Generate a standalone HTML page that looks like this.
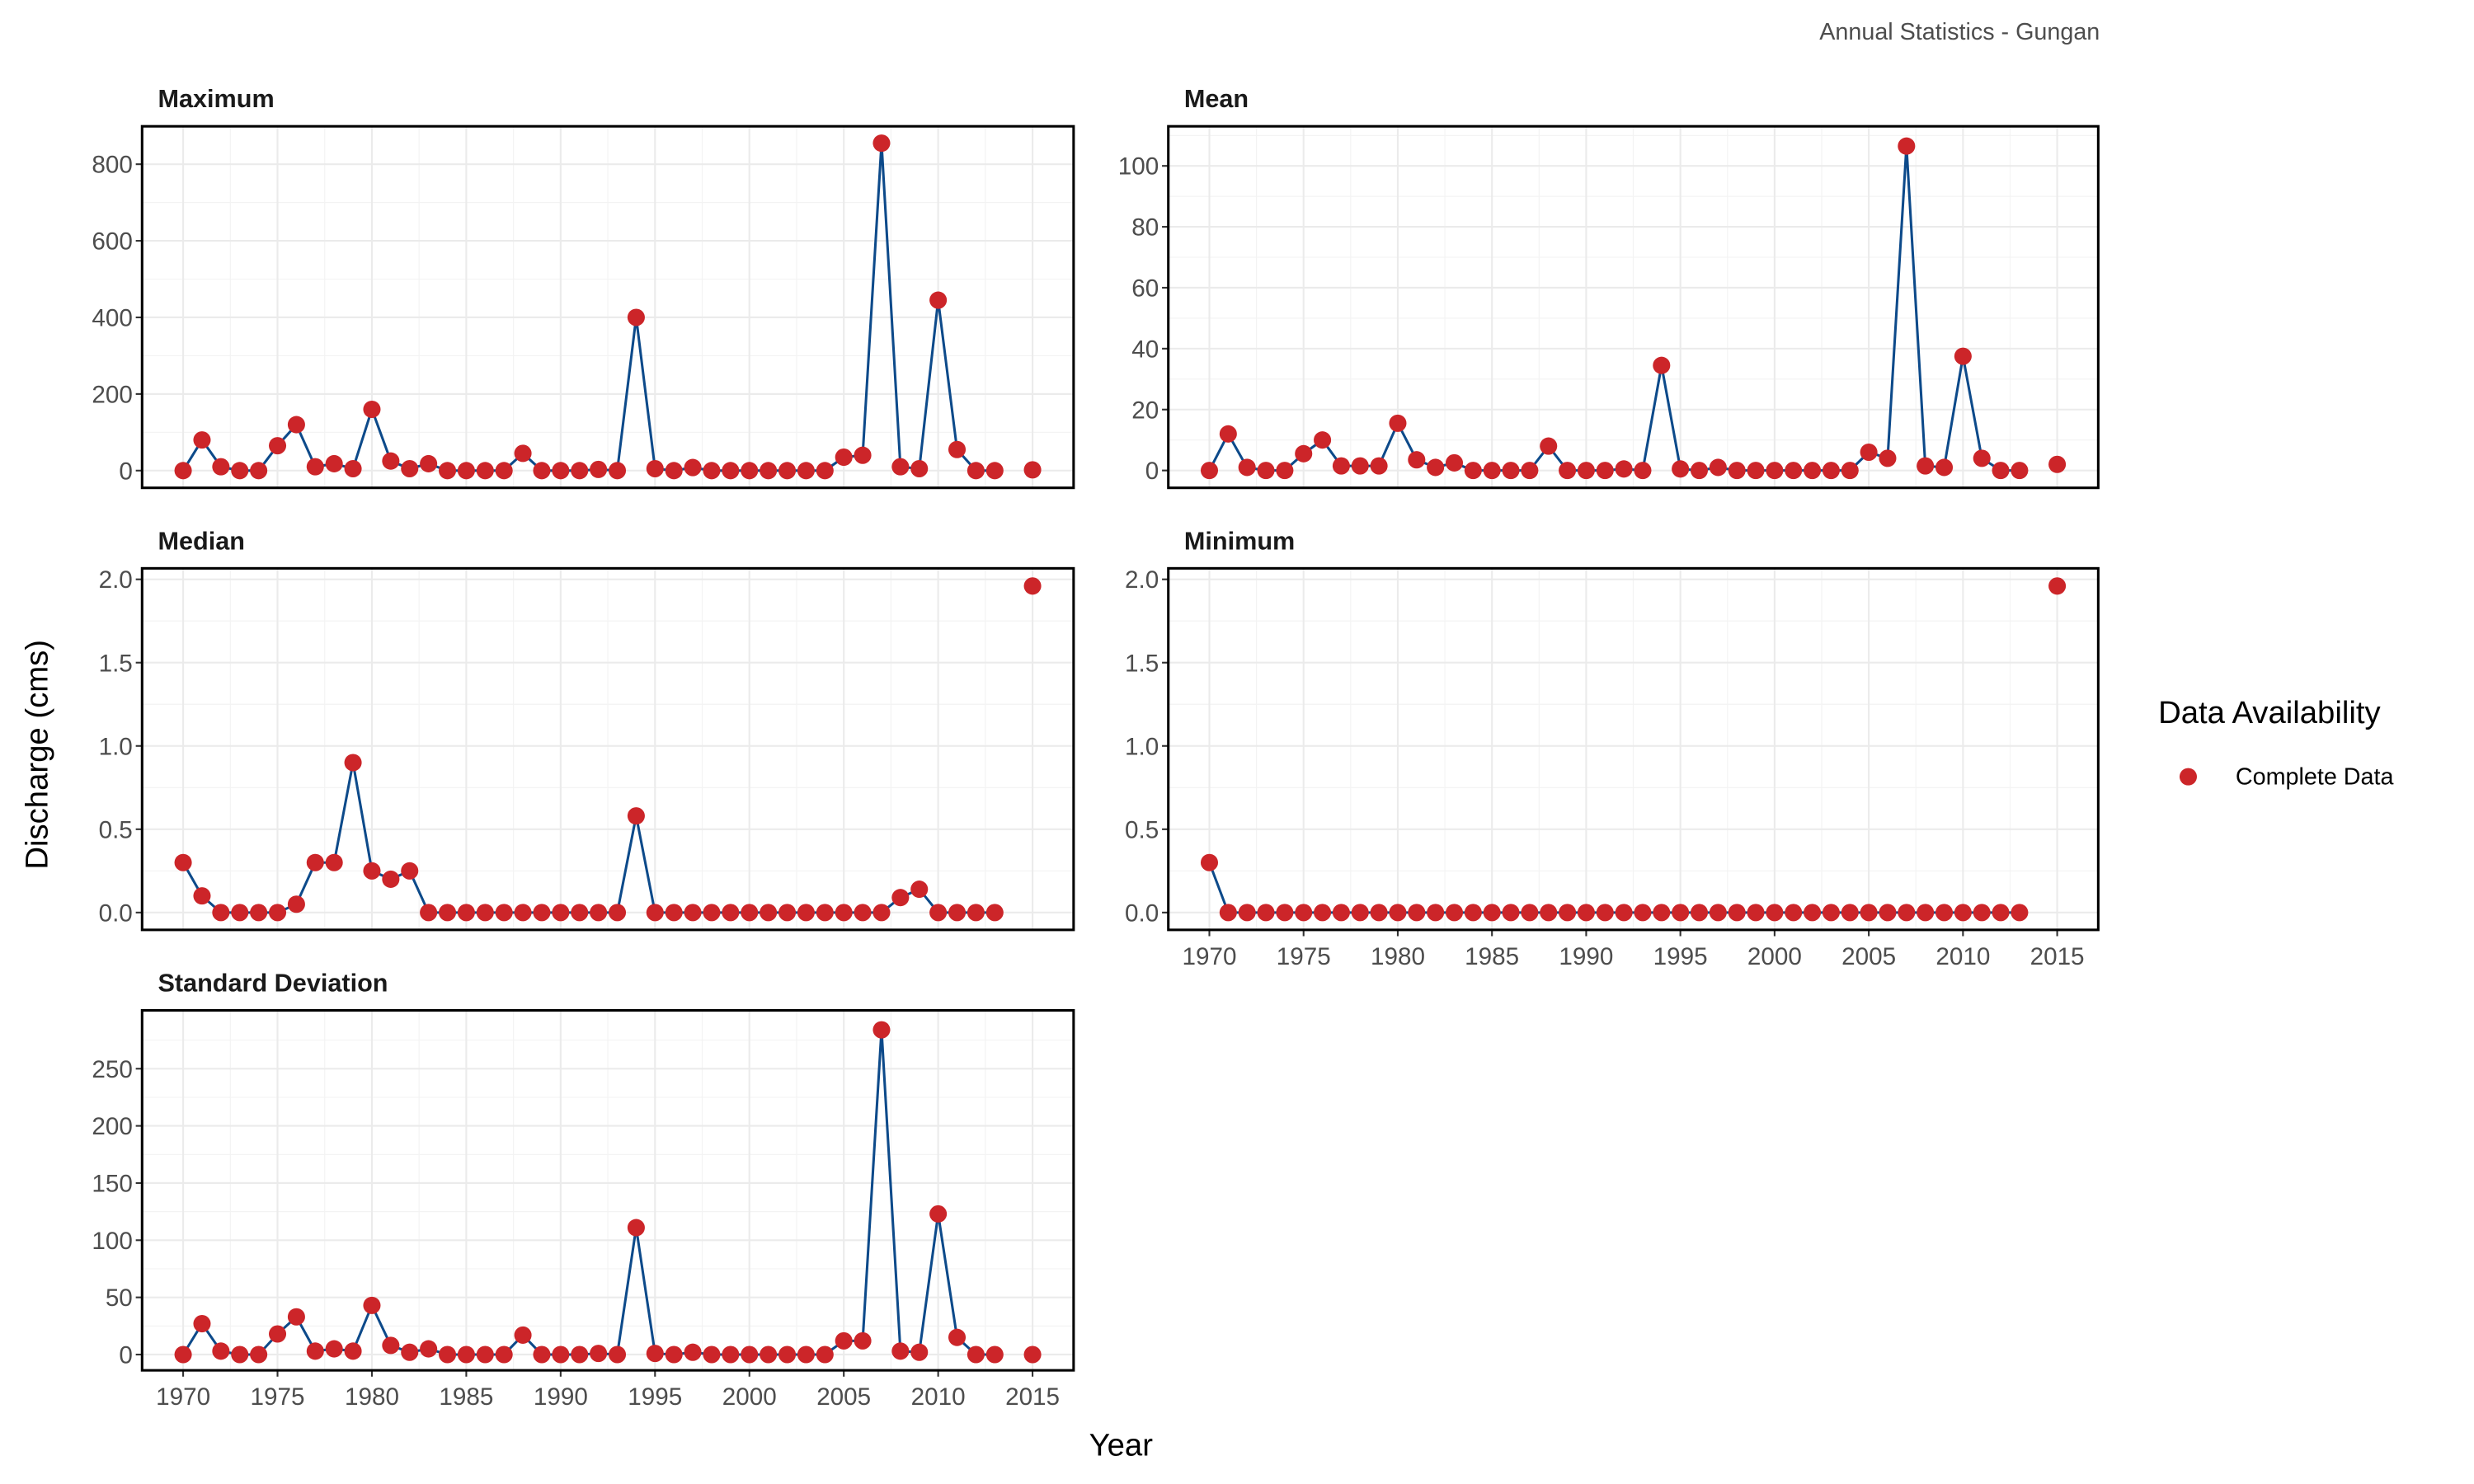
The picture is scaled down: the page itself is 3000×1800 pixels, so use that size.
<!DOCTYPE html>
<html><head><meta charset="utf-8"><style>
html,body{margin:0;padding:0;background:#fff;}
svg{display:block;font-family:"Liberation Sans",Arial,sans-serif;}
</style></head><body>
<svg id="chart" width="3000" height="1800" viewBox="0 0 1567 940" preserveAspectRatio="none" xmlns="http://www.w3.org/2000/svg">
<text x="1330" y="25" text-anchor="end" font-size="15" fill="#4d4d4d">Annual Statistics - Gungan</text>
<text transform="translate(30,478) rotate(-90)" text-anchor="middle" font-size="20" fill="#000">Discharge (cms)</text>
<text x="710" y="922" text-anchor="middle" font-size="20" fill="#000">Year</text>
<text x="1367" y="458" font-size="20" fill="#000">Data Availability</text>
<circle cx="1386" cy="492" r="5.5" fill="#cc2529"/>
<text x="1416" y="497" font-size="15" fill="#000">Complete Data</text>
<g id="panels"></g>
</svg>
<script>
const years = [1970,1971,1972,1973,1974,1975,1976,1977,1978,1979,1980,1981,1982,1983,1984,1985,1986,1987,1988,1989,1990,1991,1992,1993,1994,1995,1996,1997,1998,1999,2000,2001,2002,2003,2004,2005,2006,2007,2008,2009,2010,2011,2012,2013,2015];
const maximumVals = [0,80,10,0,0,65,120,10,18,5,160,25,5,18,0,0,0,0,45,0,0,0,3,0,400,5,0,8,0,0,0,0,0,0,0,35,40,855,10,5,445,55,0,0,2];
const meanVals = [0,12,1,0,0,5.5,10,1.5,1.5,1.5,15.5,3.5,1,2.5,0,0,0,0,8,0,0,0,0.5,0,34.5,0.5,0,1,0,0,0,0,0,0,0,6,4,106.5,1.5,1,37.5,4,0,0,2];
const medianVals = [0.3,0.1,0,0,0,0,0.05,0.3,0.3,0.9,0.25,0.2,0.25,0,0,0,0,0,0,0,0,0,0,0,0.58,0,0,0,0,0,0,0,0,0,0,0,0,0,0.09,0.14,0,0,0,0,1.96];
const minimumVals = [0.3,0,0,0,0,0,0,0,0,0,0,0,0,0,0,0,0,0,0,0,0,0,0,0,0,0,0,0,0,0,0,0,0,0,0,0,0,0,0,0,0,0,0,0,1.96];
const sdVals = [0,27,3,0,0,18,33,3,5,3,43,8,2,5,0,0,0,0,17,0,0,0,1,0,111,1,0,2,0,0,0,0,0,0,0,12,12,284,3,2,123,15,0,0,0];
const maxTicks = [0,200,400,600,800];
const meanTicks = [0,20,40,60,80,100];
const medTicks = [0,0.5,1.0,1.5,2.0];
const sdTicks = [0,50,100,150,200,250];
const xTicks = [1970,1975,1980,1985,1990,1995,2000,2005,2010,2015];

const NS="http://www.w3.org/2000/svg";
const root=document.getElementById('panels');
function mk(tag,attrs,parent){const e=document.createElementNS(NS,tag);for(const k in attrs)e.setAttribute(k,attrs[k]);(parent||root).appendChild(e);return e;}

const panels=[
 {title:"Maximum",vals:maximumVals,ticks:maxTicks,x0:90,x1:680,y0:80,y1:309,lo:-45,hi:899,dec:0,xlab:false,name:'maximum'},
 {title:"Mean",vals:meanVals,ticks:meanTicks,x0:740,x1:1329,y0:80,y1:309,lo:-5.7,hi:113,dec:0,xlab:false,name:'mean'},
 {title:"Median",vals:medianVals,ticks:medTicks,x0:90,x1:680,y0:360,y1:589,lo:-0.104,hi:2.066,dec:1,xlab:false,name:'median'},
 {title:"Minimum",vals:minimumVals,ticks:medTicks,x0:740,x1:1329,y0:360,y1:589,lo:-0.104,hi:2.066,dec:1,xlab:true,name:'minimum'},
 {title:"Standard Deviation",vals:sdVals,ticks:sdTicks,x0:90,x1:680,y0:640,y1:868,lo:-13.8,hi:301,dec:0,xlab:true,name:'standard-deviation'}
];

panels.forEach(p=>{
  const g=mk('g',{});
  
  
  const xs=v=>p.x0+26+(v-1970)*(p.x1-p.x0-52)/45;
  const ys=v=>p.y1-(v-p.lo)*(p.y1-p.y0)/(p.hi-p.lo);
  const t=mk('text',{x:p.x0+10,y:p.y0-12,'font-size':16,'font-weight':'bold',fill:'#1a1a1a'},g);
  t.textContent=p.title;
  
  
  for(let y=1967.5;y<=2017.5;y+=5){const x=xs(y);if(x>p.x0&&x<p.x1)mk('line',{x1:x,x2:x,y1:p.y0,y2:p.y1,stroke:'#f3f3f3','stroke-width':0.6},g);}
  const step=p.ticks[1]-p.ticks[0];
  for(let i=0;i<=p.ticks.length;i++){const v=p.ticks[0]+step*(i-0.5);const y=ys(v);if(y>p.y0&&y<p.y1)mk('line',{x1:p.x0,x2:p.x1,y1:y,y2:y,stroke:'#f3f3f3','stroke-width':0.6},g);}
  xTicks.forEach(v=>{const x=xs(v);mk('line',{x1:x,x2:x,y1:p.y0,y2:p.y1,stroke:'#ebebeb','stroke-width':1.1},g);});
  p.ticks.forEach(v=>{const y=ys(v);mk('line',{x1:p.x0,x2:p.x1,y1:y,y2:y,stroke:'#ebebeb','stroke-width':1.1},g);
    mk('line',{x1:p.x0-4,x2:p.x0,y1:y,y2:y,stroke:'#333','stroke-width':1.1},g);
    const l=mk('text',{x:p.x0-6,y:y+5.5,'text-anchor':'end','font-size':15.5,fill:'#4d4d4d'},g);
    l.textContent=v.toFixed(p.dec);
    
    
  });
  if(p.xlab){xTicks.forEach(v=>{const x=xs(v);mk('line',{x1:x,x2:x,y1:p.y1,y2:p.y1+4,stroke:'#333','stroke-width':1.1},g);
    const l=mk('text',{x:x,y:p.y1+22,'text-anchor':'middle','font-size':15.5,fill:'#4d4d4d'},g);
    l.textContent=v;
    
    
  });}
  let d='';
  years.forEach((yr,i)=>{const cmd=(i===0||yr-years[i-1]>1)?'M':'L';d+=cmd+xs(yr)+','+ys(p.vals[i])+' ';});
  const path=mk('path',{d:d,fill:'none',stroke:'#0d4a8a','stroke-width':1.6},g);
  
  
  years.forEach((yr,i)=>{
    const c=mk('circle',{cx:xs(yr),cy:ys(p.vals[i]),r:5.5,fill:'#cc2529'},g);
    
    
  });
  const b=mk('rect',{x:p.x0,y:p.y0,width:p.x1-p.x0,height:p.y1-p.y0,fill:'none',stroke:'#000','stroke-width':1.6},g);
  
  
});
</script>
</body></html>
